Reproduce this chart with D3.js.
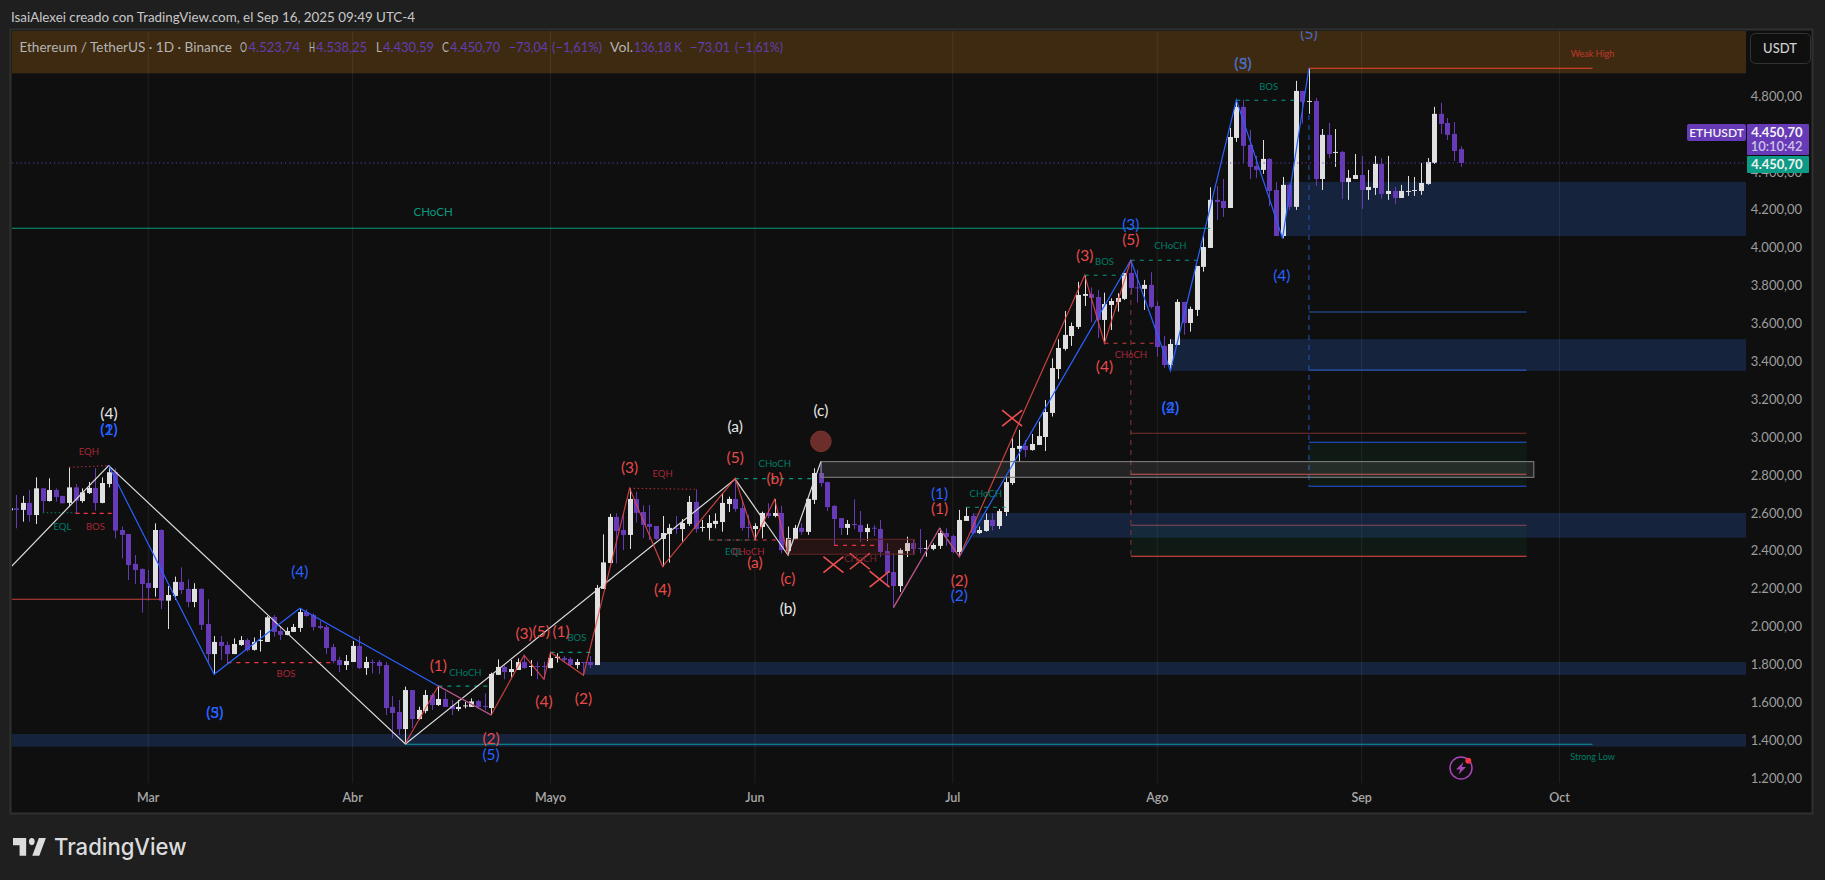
<!DOCTYPE html>
<html><head><meta charset="utf-8">
<script src="https://cdn.jsdelivr.net/npm/d3@7/dist/d3.min.js"></script>
<style>html,body{margin:0;padding:0;background:#1f1f1f;overflow:hidden}svg{display:block}text{font-family:Lato,"Open Sans",sans-serif}</style>
</head><body><svg id="c" width="1825" height="880"></svg>
<script>
const startDate = new Date(Date.UTC(2025,1,8));
const opens = [
2617,2627,2619,2656,2592,2733,2666,2724,2693,2656,
2738,2666,2708,2735,2656,2756,2818,2513,2492,2334,
2307,2233,2207,2513,2140,2165,2239,2202,2133,2202,
2017,1858,1922,1906,1858,1906,1932,1880,1927,1922,
2054,1980,1959,1975,1996,2080,2064,2006,2001,1895,
1827,1800,1816,1901,1784,1816,1816,1800,1579,1552,
1462,1668,1515,1557,1642,1589,1621,1584,1568,1584,
1579,1610,1584,1573,1748,1790,1763,1774,1816,1790,
1795,1795,1784,1837,1837,1832,1800,1816,1816,1800,
2202,2339,2582,2513,2487,2677,2608,2545,2534,2466,
2492,2524,2518,2545,2661,2524,2524,2545,2555,2650,
2677,2629,2529,2518,2529,2603,2587,2603,2402,2466,
2524,2503,2672,2814,2766,2640,2576,2524,2545,2539,
2502,2525,2518,2402,2291,2217,2402,2444,2418,2413,
2413,2429,2497,2481,2397,2561,2587,2497,2508,2566,
2534,2608,2761,2941,2957,2935,2962,3004,3131,3363,
3469,3537,3585,3749,3759,3743,3622,3701,3717,3733,
3870,3794,3786,3807,3696,3485,3384,3490,3717,3606,
3675,3902,4002,4256,4250,4213,4583,4747,4546,4435,
4414,4472,4308,4065,4335,4219,4831,4773,4778,4366,
4599,4505,4509,4350,4366,4387,4308,4319,4446,4287,
4303,4266,4298,4303,4303,4340,4451,4710,4662,4604,
4523.74];
const highs = [
2628,2698,2693,2724,2791,2733,2786,2733,2693,2844,
2756,2733,2767,2839,2791,2853,2839,2531,2492,2381,
2311,2302,2548,2517,2217,2267,2316,2253,2232,2205,
2147,1953,1953,1924,1941,1953,1941,1946,1985,2059,
2064,2003,1999,2017,2100,2094,2073,2034,2012,1911,
1844,1853,1927,1953,1844,1830,1827,1816,1637,1616,
1686,1668,1580,1668,1651,1689,1659,1616,1616,1607,
1624,1616,1651,1760,1830,1800,1827,1835,1851,1827,
1818,1818,1867,1862,1848,1841,1832,1816,1848,2223,
2490,2598,2601,2601,2733,2715,2643,2645,2534,2587,
2545,2587,2571,2693,2728,2566,2592,2601,2707,2689,
2782,2672,2592,2548,2610,2654,2675,2640,2531,2540,
2548,2680,2839,2874,2768,2645,2576,2566,2675,2613,
2545,2539,2566,2443,2390,2416,2478,2460,2518,2460,
2443,2522,2522,2487,2619,2634,2601,2531,2601,2601,
2624,2795,2997,3041,2988,3020,3085,3199,3419,3520,
3669,3608,3823,3854,3794,3780,3766,3736,3763,3870,
3937,3886,3833,3874,3719,3537,3520,3731,3717,3692,
3907,4065,4322,4329,4366,4636,4784,4784,4625,4488,
4572,4477,4350,4377,4344,4884,4831,4951,4794,4630,
4662,4630,4514,4414,4498,4488,4414,4488,4477,4488,
4324,4335,4382,4377,4451,4477,4747,4768,4688,4667,
4538.25];
const lows = [
2617,2522,2557,2557,2545,2605,2663,2663,2654,2636,
2601,2657,2703,2615,2654,2738,2469,2363,2249,2228,
2077,2140,2161,2096,1990,2144,2175,2105,2105,1985,
1809,1751,1827,1809,1858,1901,1871,1876,1871,1922,
1950,1932,1957,1975,1975,2055,1982,1989,1858,1809,
1763,1774,1816,1779,1748,1756,1753,1536,1413,1431,
1383,1466,1510,1545,1563,1584,1579,1536,1557,1571,
1579,1571,1563,1536,1748,1725,1735,1774,1781,1742,
1725,1725,1783,1813,1818,1795,1781,1746,1784,1800,
2202,2337,2337,2407,2413,2552,2471,2460,2460,2320,
2341,2492,2452,2534,2499,2504,2460,2522,2504,2608,
2610,2510,2469,2460,2469,2575,2580,2390,2379,2460,
2487,2487,2650,2742,2613,2432,2487,2487,2517,2450,
2455,2481,2370,2214,2103,2186,2370,2381,2390,2372,
2406,2413,2429,2390,2370,2561,2492,2492,2504,2510,
2518,2587,2751,2874,2897,2932,2962,2930,3112,3310,
3460,3485,3574,3696,3611,3527,3508,3569,3666,3727,
3759,3713,3675,3683,3428,3367,3353,3490,3544,3560,
3643,3877,4002,4150,4166,4213,4562,4451,4366,4372,
4393,4224,4065,4053,4203,4203,4657,4710,4329,4308,
4477,4430,4261,4256,4366,4208,4256,4282,4261,4256,
4234,4266,4277,4277,4282,4335,4446,4604,4572,4461,
4430.59];
const closes = [
2628,2619,2656,2592,2733,2666,2724,2687,2654,2738,
2668,2712,2735,2656,2761,2818,2510,2487,2328,2302,
2228,2207,2513,2140,2170,2239,2196,2133,2202,2012,
1858,1922,1901,1858,1911,1932,1878,1922,1932,2052,
1975,1959,1980,2001,2080,2059,2001,1996,1890,1821,
1800,1821,1901,1784,1816,1811,1795,1573,1547,1462,
1668,1515,1563,1642,1589,1621,1579,1568,1579,1587,
1608,1579,1579,1753,1790,1763,1779,1816,1784,1795,
1790,1791,1837,1844,1827,1800,1816,1811,1800,2207,
2342,2582,2508,2487,2677,2603,2540,2529,2466,2497,
2524,2518,2550,2661,2518,2529,2550,2561,2656,2677,
2624,2524,2524,2534,2603,2587,2603,2407,2471,2524,
2503,2677,2814,2761,2634,2571,2524,2545,2539,2502,
2524,2522,2397,2286,2217,2407,2444,2413,2413,2418,
2434,2497,2476,2397,2566,2587,2497,2513,2566,2534,
2613,2766,2946,2957,2935,2967,3009,3136,3368,3474,
3543,3590,3754,3759,3738,3622,3706,3722,3738,3870,
3791,3791,3807,3691,3479,3384,3495,3717,3606,3680,
3907,4007,4256,4245,4213,4588,4747,4541,4430,4414,
4472,4303,4065,4335,4219,4831,4773,4778,4366,4599,
4498,4509,4350,4372,4387,4308,4324,4446,4287,4303,
4266,4303,4303,4308,4345,4456,4710,4657,4599,4514,
4450.70];
const priceTicks = [4800,4600,4400,4200,4000,3800,3600,3400,3200,3000,2800,2600,2400,2200,2000,1800,1600,1400,1200];
const monthTicks = ["2025-03-01","2025-04-01","2025-05-01","2025-06-01","2025-07-01","2025-08-01","2025-09-01","2025-10-01"];
const monthLabels = ["Mar","Abr","Mayo","Jun","Jul","Ago","Sep","Oct"];
const lastPrice = 4450.70;
// [first bar, last bar, top price, bottom price]
const demandZones = [[-2,300,1436,1369],[87,300,1816,1748],[146,300,2603,2472],[176,300,3521,3353],[193,300,4351,4065]];
const whiteWave = [[0,2311],[15,2853],[60,1383],[110,2782],[118,2381],[123,2874]];
const blueWaveA = [[15,2853],[31,1751],[44,2100],[65,1689],[73,1536]];
const blueWaveB = [[134,2103],[141,2522],[144,2372],[170,3937],[176,3353],[186,4784],[193,4053],[197,4951]];
const redWaveA = [[60,1387],[65,1689],[73,1536],[78,1851],[81,1725],[82,1867],[87,1746],[94,2733],[99,2320],[110,2786],[113,2464],[116,2675],[118,2381]];
const redWaveB = [[134,2103],[141,2522],[144,2372],[163,3858],[166,3499],[170,3937]];
// [i0,p0,i1,p1,colour,dash]
const levelSegments = [
[-2,4106,182,4106,"#089981",""],[-2,2147,23,2147,"#c8403f",""],[60,1381.6,240,1381.6,"#0e98a0",""],[197,4951,240,4951,"#f0452f",""],
[9,2844,15,2853,"#b02a3a","1.5 2.5"],[5,2604,10,2604,"#00806c","1.5 2.5"],[10,2601,16,2601,"#f23645","4 4"],[33,1813,49,1813,"#f23645","4 5"],
[65,1689,73,1689,"#089981","4 5"],[82,1867,88.5,1867,"#089981","4 5"],[94,2733,104,2728,"#b02a3a","1.5 2.5"],[106,2460,117,2460,"#f23645","4 5"],
[106,2460,113,2460,"#00806c","1.5 2.5"],[110,2784,122,2784,"#089981","4 5"],[125,2432,132,2432,"#f23645","4 5"],[145,2633,151,2633,"#089981","4 5"],
[163,3858,169,3858,"#089981","4 5"],[170,3937,180,3937,"#089981","4 5"],[166,3499,174,3499,"#c8403f","4 5"],[186,4782,195,4782,"#089981","4 5"],
[170,3780,170,2372,"#7a3535","5 5"],[197,4704,197,2742,"#1f4fb0","5 5"],
[170,3024,230,3024,"#7a2f2f",""],[197,3664,230,3664,"#2a56b8",""],[197,3357,230,3357,"#2a56b8",""],[170,2807,230,2807,"#c44848",""]
];
// [i0,i1,top,bottom,fill,top stroke,bottom stroke]
const retraceBoxes = [
[197,230,2976,2744,"rgba(20,90,50,.16)","#2157e0","#2157e0"],
[170,230,2538,2374,"rgba(20,90,50,.16)","#8a4a5a","#f04848"]];
const outlineBoxes = [
[123,231.1,2874,2791,"rgba(255,255,255,.09)","#7c7c7c"],
[118,137.2,2464,2385,"rgba(160,50,50,.16)","#5d2525"]];
const red="#e84a4a",blue="#2962ff",white="#e8e8e8",dimBlue="#4a6cc0";
const waveLabels = [
["(4)",15.05,3129,white],["(1)",15.05,3046,blue],["(2)",15.05,3046,blue],["(4)",44,2295,blue],["(3)",31.1,1550,blue],["(5)",31.1,1550,blue],
["(1)",65,1800,red],["(3)",78,1971,red],["(5)",80.6,1980,red],["(1)",83.6,1980,red],["(4)",81,1610,red],["(2)",87,1628,red],
["(2)",73,1413,red],["(5)",73,1330,blue],["(3)",94,2848,red],["(4)",99,2202,red],["(5)",110,2900,red],["(a)",110,3062,white],
["(b)",116,2788,red],["(a)",113,2344,red],["(c)",118,2260,red],["(b)",118,2101,white],["(c)",123,3147,white],
["(1)",141,2710,blue],["(1)",141,2627,red],["(2)",144,2249,red],["(2)",144,2168,blue],
["(3)",170,4129,blue],["(5)",170,4050,red],["(3)",163,3963,red],["(4)",166,3379,red],["(4)",192.9,3859,blue],
["(2)",176,3160,blue],["(4)",176,3160,blue],["(5)",187,4981,dimBlue],["(3)",187,4981,dimBlue],["(5)",197,5139,dimBlue]];
const gr="#007d68",rd="#a82838";
const smallLabels = [
["EQH",12,2930,rd,9.5],["EQL",8,2534,gr,9.5],["BOS",13,2534,rd,9.5],["BOS",41.9,1753,rd,9.5],["CHoCH",69.1,1763,gr,9.5],["BOS",86,1943,gr,9.5],
["EQH",99,2809,rd,9.5],["CHoCH",116,2862,gr,9.5],["EQL",109.8,2402,gr,9.5],["CHoCH",112,2397,rd,9.5],["CHoCH",129,2363,"#7a2430",9.5],["CHoCH",148,2708,gr,9.5],
["BOS",166,3928,gr,9.5],["CHoCH",176,4013,gr,9.5],["CHoCH",170,3437,rd,9.5],["BOS",190.9,4857,gr,9.5],["CHoCH",64.2,4192,"#089981",11.5],
["Strong Low",240,1315,gr,9],["Weak High",240,5026,"#c0392b",9]];
const crossMarks = [[124.9,2330,10],[128.9,2348,10],[131.9,2254,10],[152,3103,10]];
const circleMark = [123,2981];
const headerBand = [4924,5200];
const legendParts = [
["Ethereum / TetherUS · 1D · Binance",19.4,232,"#b4b4b4"],["O",240,247,"#b4b4b4"],["4.523,74",248.5,300,"#5f3fb5"],["H",309,315,"#b4b4b4"],["4.538,25",316,367,"#5f3fb5"],
["L",376,382,"#b4b4b4"],["4.430,59",383,434,"#5f3fb5"],["C",442,449,"#b4b4b4"],["4.450,70",450,500,"#5f3fb5"],["−73,04",509,548,"#5f3fb5"],["(−1,61%)",552,602,"#5f3fb5"],
["Vol.",610,633,"#b4b4b4"],["136,18 K",634,682,"#5f3fb5"],["−73,01",690,730,"#5f3fb5"],["(−1,61%)",735,783,"#5f3fb5"]];

const svg = d3.select("#c");
const plot = {l:12,t:31,r:1746,b:812};
const xTime = d3.scaleUtc().domain([startDate,new Date(Date.UTC(2025,8,16))]).range([9.7,1460.6]);
const X = i => xTime(d3.timeMillisecond.offset(startDate,i*864e5));
const Y = d3.scaleLinear().domain([1200,4800]).range([778.7,96.8]);
const parseD = d3.utcParse("%Y-%m-%d");

// frame
svg.append("rect").attr("width",1825).attr("height",880).attr("fill","#1f1f1f");
svg.append("rect").attr("x",10.5).attr("y",29.5).attr("width",1802).attr("height",784).attr("fill","#0f0f0f").attr("stroke","#303030").attr("stroke-width",2);
svg.append("defs").append("clipPath").attr("id","pc").append("rect").attr("x",plot.l).attr("y",plot.t).attr("width",plot.r-plot.l).attr("height",plot.b-plot.t);
const g = svg.append("g").attr("clip-path","url(#pc)");

// zones
g.append("rect").attr("x",plot.l).attr("width",plot.r-plot.l).attr("y",Y(headerBand[1])).attr("height",Y(headerBand[0])-Y(headerBand[1])).attr("fill","#3e2a10");
g.selectAll(".zone").data(demandZones).join("rect").attr("x",d=>X(d[0])).attr("width",d=>X(d[1])-X(d[0])).attr("y",d=>Y(d[2])).attr("height",d=>Y(d[3])-Y(d[2])).attr("fill","#16233d");

// grid
g.selectAll(".grid").data(monthTicks).join("line").attr("x1",d=>xTime(parseD(d))).attr("x2",d=>xTime(parseD(d))).attr("y1",plot.t).attr("y2",783).attr("stroke","rgba(255,255,255,.075)");

// boxes
g.selectAll(".rb").data(retraceBoxes).join("rect").attr("x",d=>X(d[0])).attr("width",d=>X(d[1])-X(d[0])).attr("y",d=>Y(d[2])).attr("height",d=>Y(d[3])-Y(d[2])).attr("fill",d=>d[4]);
g.selectAll(".rbt").data(retraceBoxes).join("line").attr("x1",d=>X(d[0])).attr("x2",d=>X(d[1])).attr("y1",d=>Y(d[2])).attr("y2",d=>Y(d[2])).attr("stroke",d=>d[5]).attr("stroke-width",1.1);
g.selectAll(".rbb").data(retraceBoxes).join("line").attr("x1",d=>X(d[0])).attr("x2",d=>X(d[1])).attr("y1",d=>Y(d[3])).attr("y2",d=>Y(d[3])).attr("stroke",d=>d[6]).attr("stroke-width",1.1);

// candles
const idx = d3.range(opens.length);
const col = i => closes[i]>=opens[i] ? "#e0e0e0" : "#673ab7";
g.selectAll(".w").data(idx).join("line").attr("x1",i=>Math.round(X(i))+.5).attr("x2",i=>Math.round(X(i))+.5).attr("y1",i=>Y(highs[i])).attr("y2",i=>Y(lows[i])).attr("stroke",col);
g.selectAll(".b").data(idx).join("rect").attr("x",i=>Math.round(X(i))-2).attr("width",5).attr("y",i=>Y(Math.max(opens[i],closes[i]))).attr("height",i=>Math.max(1,Math.abs(Y(opens[i])-Y(closes[i])))).attr("fill",col);

// level lines
g.selectAll(".lv").data(levelSegments).join("line").attr("x1",d=>X(d[0])).attr("y1",d=>Y(d[1])).attr("x2",d=>X(d[2])).attr("y2",d=>Y(d[3])).attr("stroke",d=>d[4]).attr("stroke-width",1.1).attr("stroke-dasharray",d=>d[5]||null);

// last price line
g.append("line").attr("x1",plot.l).attr("x2",plot.r).attr("y1",Y(lastPrice)).attr("y2",Y(lastPrice)).attr("stroke","#673ab7").attr("stroke-dasharray","1.2 3");

// outline boxes
g.selectAll(".ob").data(outlineBoxes).join("rect").attr("x",d=>X(d[0])).attr("width",d=>X(d[1])-X(d[0])).attr("y",d=>Y(d[2])).attr("height",d=>Y(d[3])-Y(d[2])).attr("fill",d=>d[4]).attr("stroke",d=>d[5]).attr("stroke-width",1.1);

// zigzags
const line = d3.line().x(d=>X(d[0])).y(d=>Y(d[1]));
[[whiteWave,"#dcdcdc"],[blueWaveA,blue],[blueWaveB,blue],[redWaveA,"rgba(232,74,74,.85)"],[redWaveB,"rgba(232,74,74,.85)"]].forEach(([pts,c])=>{
  g.append("path").attr("d",line(pts)).attr("fill","none").attr("stroke",c).attr("stroke-width",1.2);
});

// marks
g.append("circle").attr("cx",X(circleMark[0])).attr("cy",Y(circleMark[1])).attr("r",10.3).attr("fill","#6b2e2a").attr("stroke","#7a332e");
g.selectAll(".x").data(crossMarks).join("path").attr("d",d=>{const x=X(d[0]),y=Y(d[1]),s=d[2];return `M${x-s},${y-s*.8}L${x+s},${y+s*.8}M${x-s},${y+s*.8}L${x+s},${y-s*.8}`}).attr("stroke","#f05050").attr("stroke-width",1.6).attr("fill","none");

// labels
g.selectAll(".wl").data(waveLabels).join("text").attr("x",d=>X(d[1])).attr("y",d=>Y(d[2])).attr("text-anchor","middle").attr("dominant-baseline","central").attr("font-size",15.5).attr("fill",d=>d[3]).text(d=>d[0]);
g.selectAll(".sl").data(smallLabels).join("text").attr("x",d=>X(d[1])).attr("y",d=>Y(d[2])).attr("text-anchor","middle").attr("dominant-baseline","central").attr("font-size",d=>d[4]).attr("fill",d=>d[3]).text(d=>d[0]);

// price axis
svg.selectAll(".pt").data(priceTicks).join("text").attr("x",1802).attr("y",d=>Y(d)-1).attr("text-anchor","end").attr("dominant-baseline","central").attr("font-size",13).attr("fill","#9e9e9e").text(d=>d3.format(".2f")(d).replace(".",",").replace(/^(\d)(\d{3})/,"$1.$2"));

// time axis
svg.selectAll(".mt").data(monthLabels).join("text").attr("x",(d,i)=>xTime(parseD(monthTicks[i]))).attr("y",797).attr("text-anchor","middle").attr("dominant-baseline","central").attr("font-size",12.5).attr("font-weight",600).attr("fill","#a8a8a8").text(d=>d);

// price tags
svg.append("rect").attr("x",1687).attr("y",124).attr("width",59).attr("height",17).attr("rx",2).attr("fill","#673ab7");
svg.append("text").attr("x",1716.5).attr("y",132).attr("text-anchor","middle").attr("dominant-baseline","central").attr("font-size",12).attr("font-weight",600).attr("fill","#f2f2f2").text("ETHUSDT");
svg.append("rect").attr("x",1747).attr("y",124).attr("width",62).attr("height",31).attr("rx",1).attr("fill","#673ab7");
svg.append("text").attr("x",1802.5).attr("y",131.5).attr("text-anchor","end").attr("dominant-baseline","central").attr("font-size",13).attr("font-weight",700).attr("fill","#f2f2f2").text("4.450,70");
svg.append("text").attr("x",1802.5).attr("y",145.5).attr("text-anchor","end").attr("dominant-baseline","central").attr("font-size",13).attr("font-weight",600).attr("fill","#d0c4ea").text("10:10:42");
svg.append("rect").attr("x",1747).attr("y",156).attr("width",62).attr("height",17).attr("rx",1).attr("fill","#0e9b85");
svg.append("text").attr("x",1802.5).attr("y",164).attr("text-anchor","end").attr("dominant-baseline","central").attr("font-size",13).attr("font-weight",700).attr("fill","#f2f2f2").text("4.450,70");
svg.append("rect").attr("x",1750.5).attr("y",33.5).attr("width",60).attr("height",30).attr("rx",5).attr("fill","#0f0f0f").attr("stroke","#333");
svg.append("text").attr("x",1780).attr("y",48).attr("text-anchor","middle").attr("dominant-baseline","central").attr("font-size",13).attr("font-weight",500).attr("fill","#d0d0d0").text("USDT");

// header text
svg.append("text").attr("x",11).attr("y",17).attr("dominant-baseline","central").attr("font-size",13).attr("fill","#c8c8c8").attr("textLength",404).attr("lengthAdjust","spacingAndGlyphs").text("IsaiAlexei creado con TradingView.com, el Sep 16, 2025 09:49 UTC-4");
svg.selectAll(".lg").data(legendParts).join("text").attr("x",d=>d[1]).attr("y",47).attr("dominant-baseline","central").attr("font-size",13).attr("fill",d=>d[3]).attr("textLength",d=>d[2]-d[1]).attr("lengthAdjust","spacingAndGlyphs").text(d=>d[0]);

// bolt icon
const bolt = svg.append("g").attr("transform","translate(1461,768)");
bolt.append("circle").attr("r",11).attr("fill","none").attr("stroke","#a843b8").attr("stroke-width",1.5);
bolt.append("path").attr("d","M2.5,-6L-5,1.5H-0.8L-2.5,6.5L5,-1H0.8Z").attr("fill","#a843b8");
bolt.append("circle").attr("cx",7.3).attr("cy",-7.3).attr("r",3).attr("fill","#f23645");

// TradingView logo
const logo = svg.append("g").attr("transform","translate(13,831) scale(.94,1.18)").attr("fill","#dcdcdc");
logo.append("path").attr("d","M14 6H0v6h7v9h7V6ZM28 21h-7.5l7-15H35l-7 15Z");
logo.append("circle").attr("cx",20).attr("cy",9).attr("r",3);
svg.append("text").attr("x",54).attr("y",847).attr("dominant-baseline","central").attr("font-size",23).attr("font-weight",500).attr("fill","#dcdcdc").style("font-family","Inter,Roboto,sans-serif").attr("textLength",132.5).attr("lengthAdjust","spacingAndGlyphs").text("TradingView");
</script></body></html>
